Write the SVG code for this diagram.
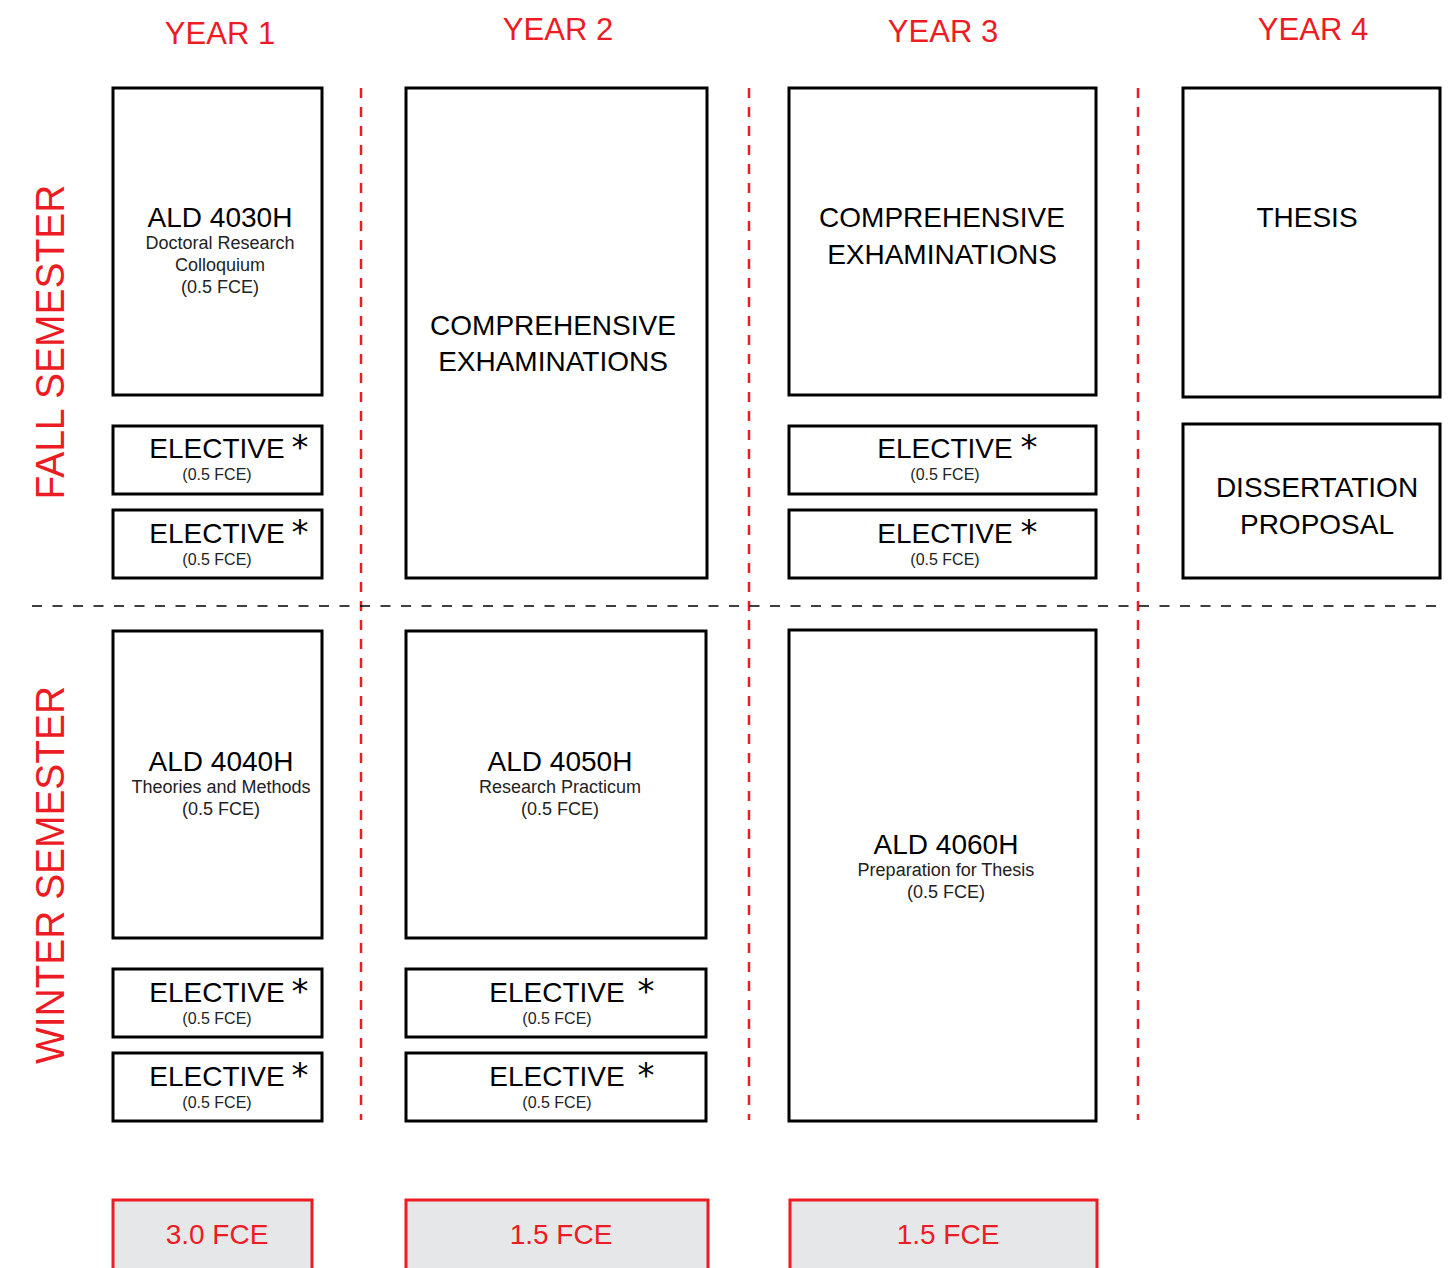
<svg xmlns="http://www.w3.org/2000/svg" width="1454" height="1268" viewBox="0 0 1454 1268">
<style>
.box{fill:#fff;stroke:#000;stroke-width:3}
.tot{fill:#e6e7e8;stroke:#ed1c24;stroke-width:3}
.red{fill:#ed1c24;font-family:"Liberation Sans",Arial,sans-serif}
.hd{font-size:31px;text-anchor:middle}
.sem{font-size:40px;text-anchor:middle}
.t{font-family:"Liberation Sans",Arial,sans-serif;fill:#000;text-anchor:middle}
.code{font-size:28px}
.sub{font-size:18px;fill:#222}
.big{font-size:28px}
.ast{font-family:"DejaVu Sans",sans-serif;font-size:34px;text-anchor:middle}
.fce{font-size:16px;fill:#222}
.vd{stroke:#ed1c24;stroke-width:2.5;stroke-dasharray:10 9;fill:none}
.hd2{stroke:#000;stroke-width:1.5;stroke-dasharray:10 10.5;fill:none}
.tt{font-size:28px;text-anchor:middle}
</style>
<rect width="1454" height="1268" fill="#fff"/>
<g id="headers">
<text class="red hd" x="220" y="44">YEAR 1</text>
<text class="red hd" x="558" y="40">YEAR 2</text>
<text class="red hd" x="943" y="42">YEAR 3</text>
<text class="red hd" x="1313" y="40">YEAR 4</text>
<text class="red sem" transform="translate(64,342) rotate(-90)" textLength="315" lengthAdjust="spacingAndGlyphs">FALL SEMESTER</text>
<text class="red sem" transform="translate(64,875) rotate(-90)" textLength="378" lengthAdjust="spacingAndGlyphs">WINTER SEMESTER</text>
</g>
<g id="connectors">
<line class="vd" x1="361" y1="88" x2="361" y2="1120"/>
<line class="vd" x1="749" y1="88" x2="749" y2="1120"/>
<line class="vd" x1="1138" y1="88" x2="1138" y2="1120"/>
<line class="hd2" x1="32" y1="606" x2="1444" y2="606"/>
</g>
<g id="ald4030h">
<rect class="box" x="113" y="88" width="209" height="307"/>
<text class="t code" x="220" y="227">ALD 4030H</text>
<text class="t sub" x="220" y="249">Doctoral Research</text>
<text class="t sub" x="220" y="271">Colloquium</text>
<text class="t sub" x="220" y="293">(0.5 FCE)</text>
</g>
<g id="y1-fall-elective-1">
<rect class="box" x="113" y="426" width="209" height="68"/>
<text class="t big" x="217" y="458">ELECTIVE</text>
<text class="t ast" x="300" y="459">*</text>
<text class="t fce" x="217" y="480">(0.5 FCE)</text>
</g>
<g id="y1-fall-elective-2">
<rect class="box" x="113" y="510" width="209" height="68"/>
<text class="t big" x="217" y="543">ELECTIVE</text>
<text class="t ast" x="300" y="544">*</text>
<text class="t fce" x="217" y="565">(0.5 FCE)</text>
</g>
<g id="y2-comp">
<rect class="box" x="406" y="88" width="301" height="490"/>
<text class="t big" x="553" y="335">COMPREHENSIVE</text>
<text class="t big" x="553" y="371">EXHAMINATIONS</text>
</g>
<g id="y3-comp">
<rect class="box" x="789" y="88" width="307" height="307"/>
<text class="t big" x="942" y="227">COMPREHENSIVE</text>
<text class="t big" x="942" y="264">EXHAMINATIONS</text>
</g>
<g id="y3-fall-elective-1">
<rect class="box" x="789" y="426" width="307" height="68"/>
<text class="t big" x="945" y="458">ELECTIVE</text>
<text class="t ast" x="1029" y="459">*</text>
<text class="t fce" x="945" y="480">(0.5 FCE)</text>
</g>
<g id="y3-fall-elective-2">
<rect class="box" x="789" y="510" width="307" height="68"/>
<text class="t big" x="945" y="543">ELECTIVE</text>
<text class="t ast" x="1029" y="544">*</text>
<text class="t fce" x="945" y="565">(0.5 FCE)</text>
</g>
<g id="thesis">
<rect class="box" x="1183" y="88" width="257" height="309"/>
<text class="t big" x="1307" y="227">THESIS</text>
</g>
<g id="dissertation">
<rect class="box" x="1183" y="424" width="257" height="154"/>
<text class="t big" x="1317" y="497">DISSERTATION</text>
<text class="t big" x="1317" y="534">PROPOSAL</text>
</g>
<g id="ald4040h">
<rect class="box" x="113" y="631" width="209" height="307"/>
<text class="t code" x="221" y="771">ALD 4040H</text>
<text class="t sub" x="221" y="793">Theories and Methods</text>
<text class="t sub" x="221" y="815">(0.5 FCE)</text>
</g>
<g id="y1-winter-elective-1">
<rect class="box" x="113" y="969" width="209" height="68"/>
<text class="t big" x="217" y="1002">ELECTIVE</text>
<text class="t ast" x="300" y="1003">*</text>
<text class="t fce" x="217" y="1024">(0.5 FCE)</text>
</g>
<g id="y1-winter-elective-2">
<rect class="box" x="113" y="1053" width="209" height="68"/>
<text class="t big" x="217" y="1086">ELECTIVE</text>
<text class="t ast" x="300" y="1087">*</text>
<text class="t fce" x="217" y="1108">(0.5 FCE)</text>
</g>
<g id="ald4050h">
<rect class="box" x="406" y="631" width="300" height="307"/>
<text class="t code" x="560" y="771">ALD 4050H</text>
<text class="t sub" x="560" y="793">Research Practicum</text>
<text class="t sub" x="560" y="815">(0.5 FCE)</text>
</g>
<g id="y2-winter-elective-1">
<rect class="box" x="406" y="969" width="300" height="68"/>
<text class="t big" x="557" y="1002">ELECTIVE</text>
<text class="t ast" x="646" y="1003">*</text>
<text class="t fce" x="557" y="1024">(0.5 FCE)</text>
</g>
<g id="y2-winter-elective-2">
<rect class="box" x="406" y="1053" width="300" height="68"/>
<text class="t big" x="557" y="1086">ELECTIVE</text>
<text class="t ast" x="646" y="1087">*</text>
<text class="t fce" x="557" y="1108">(0.5 FCE)</text>
</g>
<g id="ald4060h">
<rect class="box" x="789" y="630" width="307" height="491"/>
<text class="t code" x="946" y="854">ALD 4060H</text>
<text class="t sub" x="946" y="876">Preparation for Thesis</text>
<text class="t sub" x="946" y="898">(0.5 FCE)</text>
</g>
<g id="total-y1">
<rect class="tot" x="113" y="1200" width="199" height="80"/>
<text class="red tt" x="217" y="1244">3.0 FCE</text>
</g>
<g id="total-y2">
<rect class="tot" x="406" y="1200" width="302" height="80"/>
<text class="red tt" x="561" y="1244">1.5 FCE</text>
</g>
<g id="total-y3">
<rect class="tot" x="790" y="1200" width="307" height="80"/>
<text class="red tt" x="948" y="1244">1.5 FCE</text>
</g>
</svg>
